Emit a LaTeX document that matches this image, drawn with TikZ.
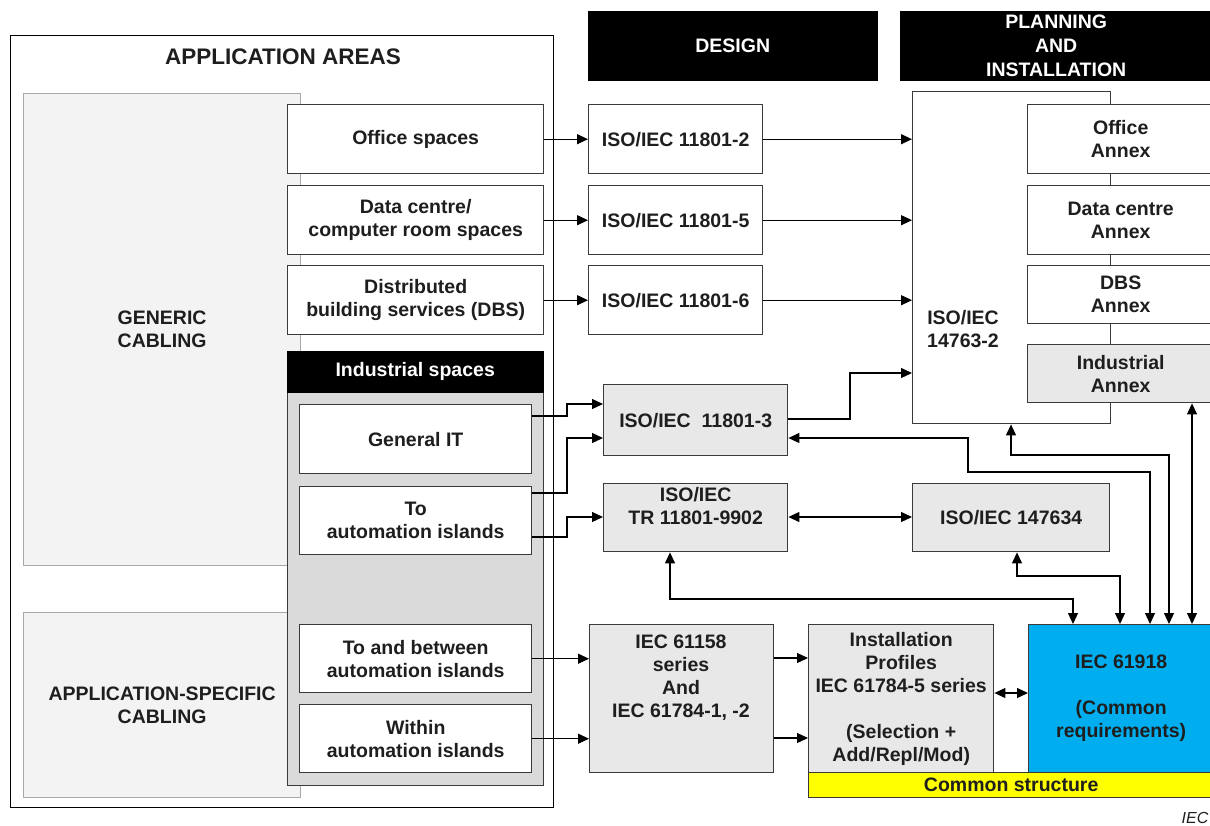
\documentclass[tikz,border=0pt]{standalone}
\usepackage{fontspec}
\setmainfont{Liberation Sans}
\usetikzlibrary{arrows.meta}
\definecolor{bd}{HTML}{3A3A3A}
\definecolor{txt}{HTML}{1E1E1E}
\definecolor{lgfill}{HTML}{F3F3F3}
\definecolor{lgbd}{HTML}{A8A8A8}
\definecolor{indfill}{HTML}{DADADA}
\definecolor{gfill}{HTML}{E8E8E8}
\definecolor{iecblue}{HTML}{00AEEF}
\definecolor{yel}{HTML}{FFFF00}
\tikzset{
  mainfont/.style={font=\bfseries\fontsize{19.5}{23}\selectfont},
  box/.style={draw=bd, line width=1.4pt, fill=white, anchor=north west, inner sep=0pt, align=center, mainfont, text=txt},
  gbox/.style={box, fill=gfill},
  lbox/.style={draw=lgbd, line width=1.2pt, fill=lgfill, anchor=north west, inner sep=0pt, align=center, mainfont, text=txt},
  hdr/.style={draw=black, fill=black, anchor=north west, inner sep=0pt, align=center, mainfont, text=white},
  lbl/.style={inner sep=0pt, align=center, mainfont, text=txt},
  tip/.tip={Triangle[length=11pt,width=10pt]},
  arr/.style={draw=black, line width=1.2pt, -tip},
  arrs/.style={draw=black, line width=1.2pt, tip-tip},
}
\begin{document}
\begin{tikzpicture}[x=1pt,y=-1pt]
\useasboundingbox[fill=white] (0,0) rectangle (1210,825);

% ---------- application areas ----------
\node[draw=black, line width=1.2pt, anchor=north west, minimum width=543, minimum height=772, inner sep=0pt] (outer) at (10,35) {};
\node[lbl, font=\bfseries\fontsize{22.5}{26}\selectfont] (areas) at (283,57) {APPLICATION AREAS};
\node[lbox, minimum width=277, minimum height=472] (generic) at (23,93) {GENERIC\\CABLING};
\node[lbox, minimum width=277, minimum height=185] (appspec) at (23,612) {APPLICATION-SPECIFIC\\CABLING};

\node[box, minimum width=256, minimum height=69] (office) at (287,104) {Office spaces};
\node[box, minimum width=256, minimum height=69] (dcs) at (287,185) {Data centre/\\computer room spaces};
\node[box, minimum width=256, minimum height=69] (dbs) at (287,265) {Distributed\\building services (DBS)};

\node[box, fill=indfill, minimum width=256, minimum height=434] (indbody) at (287,351) {};
\node[hdr, minimum width=256, minimum height=41] (indhdr) at (287,351) {Industrial spaces};
\node[box, minimum width=232, minimum height=69] (genit) at (299,404) {General IT};
\node[box, minimum width=232, minimum height=68] (toauto) at (299,486) {To\\automation islands};
\node[box, minimum width=232, minimum height=68] (tobetween) at (299,624) {To and between\\automation islands};
\node[box, minimum width=232, minimum height=68] (within) at (299,704) {Within\\automation islands};

% ---------- headers ----------
\node[hdr, minimum width=289, minimum height=69] (design) at (588,11) {DESIGN};
\node[hdr, minimum width=312, minimum height=69, font=\bfseries\fontsize{19.5}{24}\selectfont] (plan) at (900,11) {PLANNING\\AND\\INSTALLATION};

% ---------- design column ----------
\node[box, minimum width=174, minimum height=69] (iso2) at (588,104) {ISO/IEC 11801-2};
\node[box, minimum width=174, minimum height=69] (iso5) at (588,185) {ISO/IEC 11801-5};
\node[box, minimum width=174, minimum height=69] (iso6) at (588,265) {ISO/IEC 11801-6};
\node[gbox, minimum width=184, minimum height=71] (iso3) at (603,384) {ISO/IEC\ \ 11801-3};
\node[gbox, minimum width=184, minimum height=68] (tr) at (603,483) {ISO/IEC\\TR 11801-9902\\\mbox{}};
\node[gbox, minimum width=184, minimum height=148] (iec61158) at (589,624) {};
\node[lbl] (t61158) at (681,678) {IEC 61158\\series\\And\\IEC 61784-1, -2};
\node[gbox, minimum width=185, minimum height=148] (inst) at (808,624) {Installation\\Profiles\\IEC 61784-5 series\\\mbox{}\\(Selection +\\Add/Repl/Mod)};

% ---------- planning column ----------
\node[box, minimum width=198, minimum height=332] (p14763) at (912,91) {};
\node[lbl] (t14763) at (963,329) {ISO/IEC\\14763-2};
\node[box, minimum width=186, minimum height=69] (offann) at (1027,104) {Office\\Annex};
\node[box, minimum width=186, minimum height=69] (dcann) at (1027,185) {Data centre\\Annex};
\node[box, minimum width=186, minimum height=58] (dbsann) at (1027,265) {DBS\\Annex};
\node[gbox, minimum width=186, minimum height=58] (indann) at (1027,344) {Industrial\\Annex};
\node[gbox, minimum width=197, minimum height=68] (p147) at (912,483) {ISO/IEC 147634};
\node[box, fill=iecblue, minimum width=185, minimum height=148] (iec61918) at (1028,624) {IEC 61918\\\mbox{}\\(Common\\requirements)};
\node[box, fill=yel, minimum width=405, minimum height=25] (common) at (808,772) {Common structure};

\node[inner sep=0pt, font=\itshape\fontsize{16}{18}\selectfont, text=txt] (ieclabel) at (1195,818) {IEC};

% ---------- connectors ----------
\draw[arr] (office.east) -- (iso2.west);
\draw[arr] (dcs.east) -- (iso5.west);
\draw[arr] (dbs.east) -- (iso6.west);
\draw[arr] (iso2.east) -- (iso2.east -| p14763.west);
\draw[arr] (iso5.east) -- (iso5.east -| p14763.west);
\draw[arr] (iso6.east) -- (iso6.east -| p14763.west);
\draw[arr] (iso3.east |- 0,419) -- (850,419) -- (850,373) -- (p14763.west |- 0,373);

\draw[arr] (genit.east |- 0,416) -- (567,416) -- (567,404) -- (iso3.west |- 0,404);
\draw[arr] (toauto.east |- 0,493) -- (567,493) -- (567,438) -- (iso3.west |- 0,438);
\draw[arr] (toauto.east |- 0,537) -- (567,537) -- (567,517) -- (tr.west |- 0,517);

\draw[arrs] (tr.east |- 0,517) -- (p147.west |- 0,517);

\draw[arrs] (iso3.east |- 0,438) -- (968,438) -- (968,472) -- (1150,472) -- (iec61918.north -| 1150,0);
\draw[arrs] (p14763.south -| 1011,0) -- (1011,455) -- (1169,455) -- (iec61918.north -| 1169,0);
\draw[arrs] (indann.south -| 1192,0) -- (iec61918.north -| 1192,0);
\draw[arrs] (p147.south -| 1017,0) -- (1017,576) -- (1120,576) -- (iec61918.north -| 1120,0);
\draw[arrs] (tr.south -| 670,0) -- (670,599) -- (1073,599) -- (iec61918.north -| 1073,0);

\draw[arr] (tobetween.east) -- (iec61158.west |- tobetween.east);
\draw[arr] (within.east) -- (iec61158.west |- within.east);
\draw[arr] (iec61158.east |- 0,658) -- (inst.west |- 0,658);
\draw[arr] (iec61158.east |- 0,738) -- (inst.west |- 0,738);
\draw[arrs] (inst.east |- 0,693) -- (iec61918.west |- 0,693);
\end{tikzpicture}
\end{document}
